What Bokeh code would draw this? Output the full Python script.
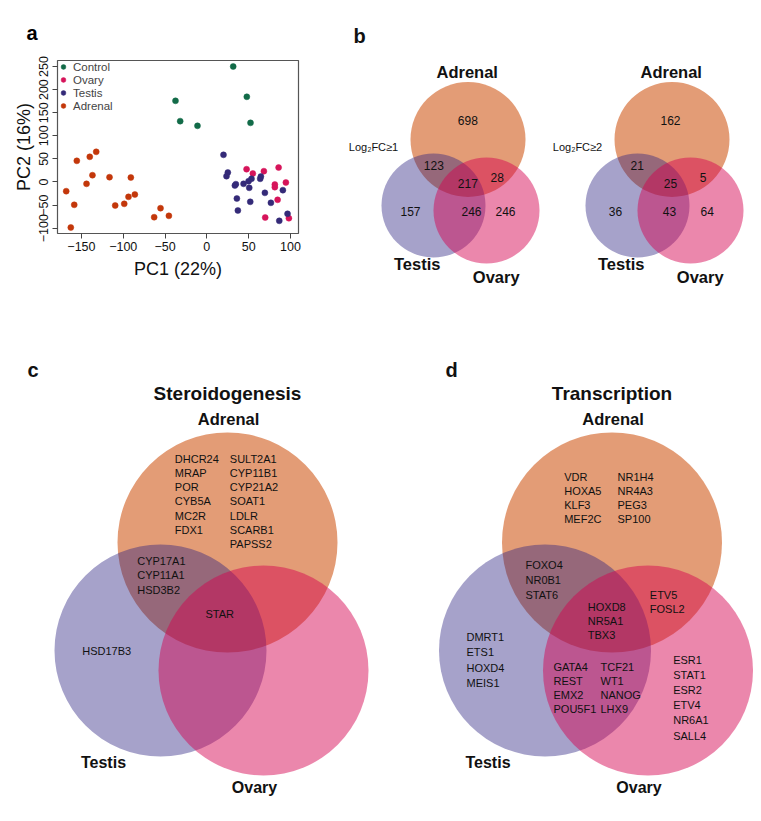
from bokeh.plotting import figure
from bokeh.models import Range1d, FixedTicker, Legend, LegendItem
from bokeh.layouts import column, row
from bokeh.embed import file_html
from bokeh.resources import INLINE
from bokeh.core.properties import value

FONT = "Liberation Sans"

# ------------------------------------------------------------------ data
# panel a : PCA
control_pc1 = [31.5, -37.5, -31.9, -11.2, 47.8, 52.2]
control_pc2 = [250, 175.7, 131.7, 121.6, 184.4, 128]
ovary_pc1 = [47.5, 55, 68.2, 85.8, 81.3, 81.3, 94.5, 84.6, 69.8, 98.1]
ovary_pc2 = [27.7, 18.4, 23.4, 31.3, -5.5, -11.2, -1.1, -38.6, -76.9, -78.4]
testis_pc1 = [19.9, 25.1, 23.5, 34.7, 33.5, 43.9, 49.9, 53.4, 50.7, 63.8,
              64.6, 35.9, 51.9, 37.1, 69.4, 76.6, 90.9, 96.5, 86.6]
testis_pc2 = [58.8, 20.5, 12.6, -4.7, -7.6, -4, 1.8, 6.9, -12.6, 6.9,
              11.9, -35.8, -42.9, -61.7, -23.5, -45.1, -17.7, -68.9, -84.1]
adrenal_pc1 = [-155.5, -140, -132.3, -168.2, -158.6, -162.7, -143.9, -136.8, -116.4,
               -90.9, -109.6, -98.8, -93.7, -86.1, -63, -55.4, -45.4]
adrenal_pc2 = [45.8, 54.5, 65.3, -19.9, -49.4, -98.5, -4, 14.7, 10.4,
               9.7, -50.9, -47.3, -32.2, -27.1, -76.2, -56.7, -73.3]
pc1_ticks = [-150, -100, -50, 0, 50, 100]
pc2_ticks = [-100, -50, 0, 50, 100, 150, 200, 250]
group_names = ["Control", "Ovary", "Testis", "Adrenal"]

# panel b : region counts (A only, A&T, A&O, A&T&O, T only, T&O, O only)
counts_fc1 = [698, 123, 28, 217, 157, 246, 246]
counts_fc2 = [162, 21, 5, 25, 36, 43, 64]
thresholds = ["Log\u2082FC\u22651", "Log\u2082FC\u22652"]
set_names = ["Adrenal", "Testis", "Ovary"]

# panel c : steroidogenesis genes
c_adrenal_col1 = ["DHCR24", "MRAP", "POR", "CYB5A", "MC2R", "FDX1"]
c_adrenal_col2 = ["SULT2A1", "CYP11B1", "CYP21A2", "SOAT1", "LDLR", "SCARB1", "PAPSS2"]
c_adrenal_testis = ["CYP17A1", "CYP11A1", "HSD3B2"]
c_all = ["STAR"]
c_testis = ["HSD17B3"]

# panel d : transcription genes
d_adrenal_col1 = ["VDR", "HOXA5", "KLF3", "MEF2C"]
d_adrenal_col2 = ["NR1H4", "NR4A3", "PEG3", "SP100"]
d_adrenal_testis = ["FOXO4", "NR0B1", "STAT6"]
d_adrenal_ovary = ["ETV5", "FOSL2"]
d_all = ["HOXD8", "NR5A1", "TBX3"]
d_testis = ["DMRT1", "ETS1", "HOXD4", "MEIS1"]
d_testis_ovary_col1 = ["GATA4", "REST", "EMX2", "POU5F1"]
d_testis_ovary_col2 = ["TCF21", "WT1", "NANOG", "LHX9"]
d_ovary = ["ESR1", "STAT1", "ESR2", "ETV4", "NR6A1", "SALL4"]

# ------------------------------------------------------------------ styles
pca_colors = ["#126b48", "#d6145a", "#342a78", "#c3370a"]
venn_colors = {"Adrenal": ("#cc4a06", 0.55), "Testis": ("#2b2180", 0.42), "Ovary": ("#d4004f", 0.47)}
TXT = "#111111"


def no_align(p):
    try:
        p.frame_align = False
    except Exception:
        pass


def txt(p, x, y, t, size, bold=False, align="center", baseline="middle"):
    p.text(x=x, y=y, text=t, text_font=value(FONT), text_font_size=size,
           text_font_style="bold" if bold else "normal", text_align=align,
           text_baseline=baseline, text_color=TXT)


# ------------------------------------------------------------------ panel a
pca = figure(width=338, height=300, x_range=Range1d(-178.6, 109.6), y_range=Range1d(-111.5, 263),
             output_backend="svg", toolbar_location=None,
             min_border_left=57, min_border_right=40, min_border_top=60, min_border_bottom=67)
no_align(pca)
pca.grid.visible = False
pca.outline_line_color = "#555555"
pca.outline_line_width = 1.2
pca.background_fill_color = "white"
pca.border_fill_color = "white"

pca.title.text = "a"
pca.title.text_font = FONT
pca.title.text_font_size = "20px"
pca.title.text_font_style = "bold"
pca.title.text_color = "black"
pca.title.align = "left"
pca.title.offset = -31
pca.title.standoff = 33

items = []
for name, xs, ys, col in zip(group_names,
                             [control_pc1, ovary_pc1, testis_pc1, adrenal_pc1],
                             [control_pc2, ovary_pc2, testis_pc2, adrenal_pc2],
                             pca_colors):
    r = pca.scatter(xs, ys, size=6, fill_color=col, line_color=col, line_width=0.5)
    items.append(LegendItem(label=name, renderers=[r]))

leg = Legend(items=items, location="top_left", margin=0, padding=2, spacing=0,
             glyph_width=12, glyph_height=13, label_height=13, label_standoff=4,
             label_text_font=FONT, label_text_font_size="11.5px",
             border_line_color=None, background_fill_alpha=0)
pca.add_layout(leg)

for ax, ticks in ((pca.xaxis, pc1_ticks), (pca.yaxis, pc2_ticks)):
    ax.ticker = FixedTicker(ticks=ticks)
    ax.axis_line_color = None
    ax.major_tick_line_color = "#444444"
    ax.major_tick_in = 0
    ax.major_tick_out = 5
    ax.minor_tick_line_color = None
    ax.major_label_text_font = FONT
    ax.major_label_text_font_size = "12.5px"
    ax.major_label_text_color = "#111111"
    ax.axis_label_text_font = FONT
    ax.axis_label_text_font_size = "18px"
    ax.axis_label_text_font_style = "normal"
    ax.axis_label_text_color = "#111111"
pca.xaxis.axis_label = "PC1 (22%)"
pca.yaxis.axis_label = "PC2 (16%)"
pca.xaxis.major_label_standoff = 3
pca.xaxis.axis_label_standoff = 5
pca.yaxis.major_label_orientation = "vertical"
pca.yaxis.major_label_standoff = 4
pca.yaxis.axis_label_standoff = 3


def canvas(x0, y0, w, h):
    p = figure(width=w, height=h, x_range=Range1d(x0, x0 + w), y_range=Range1d(y0 + h, y0),
               output_backend="svg", toolbar_location=None, min_border=0,
               x_axis_location=None, y_axis_location=None)
    no_align(p)
    p.grid.visible = False
    p.outline_line_color = None
    p.background_fill_color = "white"
    p.border_fill_color = "white"
    return p


def circles(p, centers, radii):
    for name in set_names:
        col, a = venn_colors[name]
        cx, cy = centers[name]
        p.circle(x=[cx], y=[cy], radius=radii[name], fill_color=col, fill_alpha=a, line_color=None)


# ------------------------------------------------------------------ panel b
vb = canvas(338, 0, 423, 300)
txt(vb, [353], [35], ["b"], "20px", bold=True, align="left", baseline="alphabetic")
b_radii = {"Adrenal": 57.5, "Testis": 52, "Ovary": 53}
b_offsets = [0, 204]
b_counts = [counts_fc1, counts_fc2]
b_label_pos = [
    [(467.3, 120), (433.3, 165), (496.7, 176.7), (467.3, 182.7), (410, 211), (471, 211), (505, 211)],
    [(670, 120), (636.7, 165), (702.7, 176.7), (670, 182.7), (615, 211), (669, 211), (706.7, 211)],
]
for k in range(2):
    dx = b_offsets[k]
    centers = {"Adrenal": (467.5 + dx, 139), "Testis": (433 + dx, 205), "Ovary": (486 + dx, 210)}
    circles(vb, centers, b_radii)
    pos = b_label_pos[k]
    txt(vb, [q[0] for q in pos], [q[1] for q in pos], [str(v) for v in b_counts[k]], "12px")
    txt(vb, [466.7 + dx], [71.7], [set_names[0]], "16.5px", bold=True)
    txt(vb, [416.7 + dx], [263.3], [set_names[1]], "16.5px", bold=True)
    txt(vb, [495.7 + dx], [276], [set_names[2]], "16.5px", bold=True)
    txt(vb, [373 + dx], [146.7], [thresholds[k]], "11px")

# ------------------------------------------------------------------ panels c, d
vcd = canvas(0, 300, 761, 516)
cd_radii = {"Adrenal": 110, "Testis": 106, "Ovary": 105}
txt(vcd, [27], [369], ["c"], "20px", bold=True, align="left", baseline="alphabetic")
txt(vcd, [445], [369], ["d"], "20px", bold=True, align="left", baseline="alphabetic")
titles = ["Steroidogenesis", "Transcription"]
for k, dx in enumerate([0, 384.5]):
    centers = {"Adrenal": (227 + dx, 542), "Testis": (160 + dx, 650), "Ovary": (263 + dx, 670)}
    circles(vcd, centers, cd_radii)
    txt(vcd, [227 + dx], [393], [titles[k]], "19px", bold=True)
    txt(vcd, [228 + dx], [418], [set_names[0]], "16.5px", bold=True)
    txt(vcd, [103 + dx], [762], [set_names[1]], "16px", bold=True)
    txt(vcd, [254 + dx], [787], [set_names[2]], "16px", bold=True)


def gene_block(p, genes, x, y0, dy):
    txt(p, [x] * len(genes), [y0 + i * dy for i in range(len(genes))], genes, "11px", align="left")


gene_block(vcd, c_adrenal_col1, 174.3, 458.3, 14.2)
gene_block(vcd, c_adrenal_col2, 229.3, 458.3, 14.2)
gene_block(vcd, c_adrenal_testis, 136.7, 560, 14.5)
gene_block(vcd, c_all, 205, 613, 14)
gene_block(vcd, c_testis, 81.7, 650, 14)

gene_block(vcd, d_adrenal_col1, 563.7, 476, 14.1)
gene_block(vcd, d_adrenal_col2, 617, 476, 14.1)
gene_block(vcd, d_adrenal_testis, 525, 564.3, 15)
gene_block(vcd, d_adrenal_ovary, 649.3, 594.3, 14.4)
gene_block(vcd, d_all, 587.3, 606.7, 13.8)
gene_block(vcd, d_testis, 466, 636.7, 15.2)
gene_block(vcd, d_testis_ovary_col1, 553, 666, 14.1)
gene_block(vcd, d_testis_ovary_col2, 600, 666, 14.1)
gene_block(vcd, d_ovary, 672.7, 659, 15.2)

layout = column(row(pca, vb), vcd)
open("out.html", "w").write(file_html(layout, INLINE))
